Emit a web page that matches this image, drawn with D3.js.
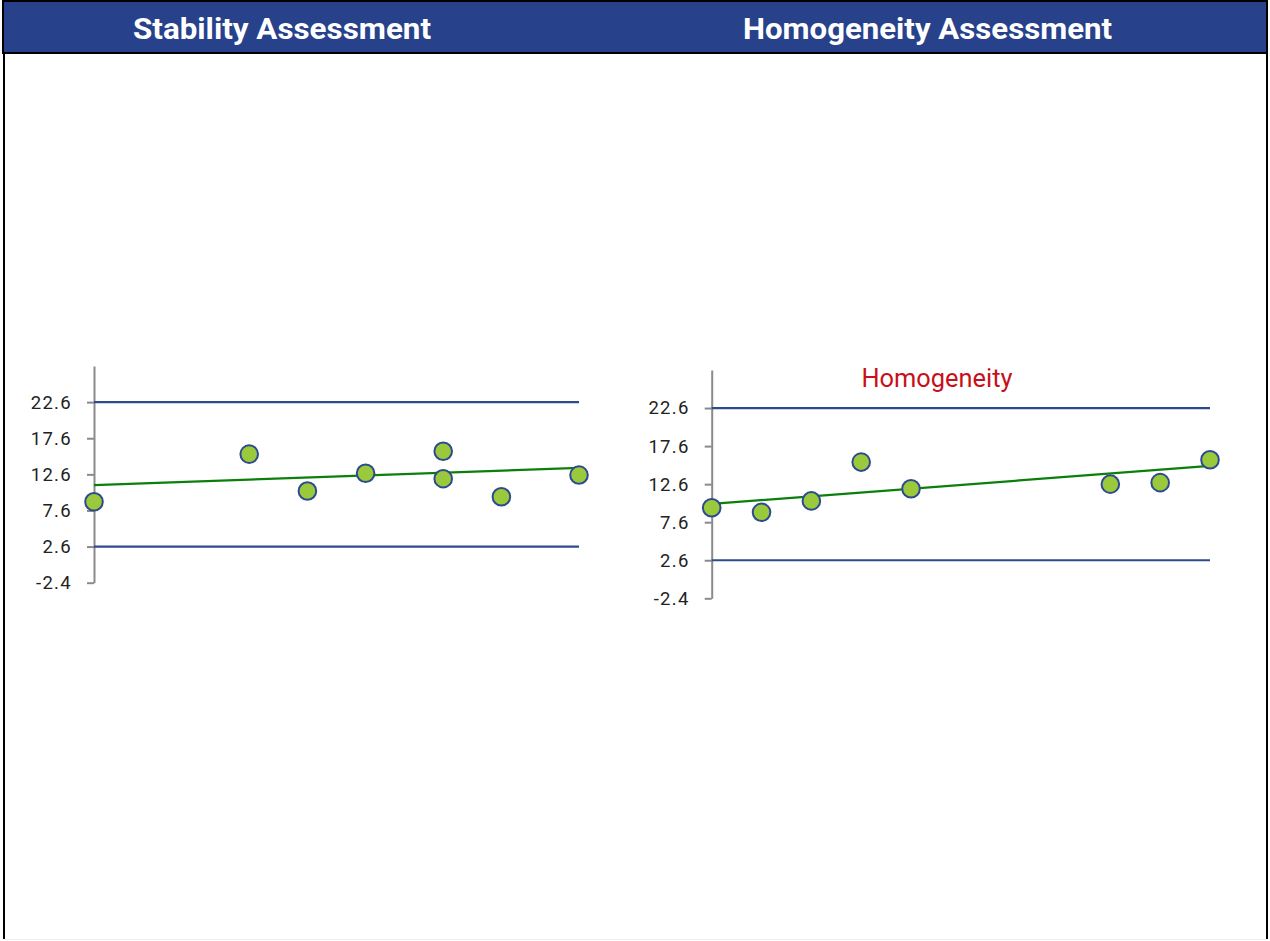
<!DOCTYPE html>
<html>
<head>
<meta charset="utf-8">
<script src="https://cdn.jsdelivr.net/npm/d3@7"></script>
<style>
   body { margin: 0; background: #ffffff; }
   svg { display: block; }
</style>
</head>
<body>
<div id="chart"></div>
<script>

// HEADER TITLES
var panelTitles = ['Stability Assessment', 'Homogeneity Assessment'];

// SHARED Y TICKS
var yTicks = [-2.4, 2.6, 7.6, 12.6, 17.6, 22.6];
var yDomain = [-2.4, 27.6];

// STABILITY SERIES
var stabilityTime = [0, 8, 11, 14, 18, 18, 21, 25];
var stabilityValue = [8.8, 15.4, 10.3, 12.75, 15.8, 12.0, 9.5, 12.5];
var stabilityLimits = [2.6, 22.6];
var stabilityTrend = [11.1, 13.5];

// HOMOGENEITY SERIES
var homogeneitySample = [0, 1, 2, 3, 4, 8, 9, 10];
var homogeneityValue = [9.5, 8.9, 10.4, 15.5, 12.0, 12.6, 12.8, 15.8];
var homogeneityLimits = [2.6, 22.6];
var homogeneityTrend = [10.0, 15.0];

// SETTINGS
var settings = {
   width: 1270,
   height: 941,
   header: '#27418a',
   limit: '#2e4a8f',
   trend: '#0a800a',
   dotFill: '#9aca3c',
   dotStroke: '#2e4a8f',
   axis: '#8a8a8a',
   font: 'Roboto, "DejaVu Sans", sans-serif'
};

// CANVAS
var svg = d3.select('#chart').append('svg')
   .attr('width', settings.width)
   .attr('height', settings.height)

// HEADER BAR
svg.append('rect')
   .attr('x', 3).attr('y', 1)
   .attr('width', 1264).attr('height', 52)
   .attr('fill', settings.header)
   .attr('stroke', '#000').attr('stroke-width', 2)

// FRAME SIDES
svg.append('line').attr('x1', 4).attr('x2', 4).attr('y1', 53).attr('y2', 939)
   .attr('stroke', '#000').attr('stroke-width', 2)
svg.append('line').attr('x1', 1267).attr('x2', 1267).attr('y1', 53).attr('y2', 939)
   .attr('stroke', '#000').attr('stroke-width', 2)
svg.append('line').attr('x1', 4).attr('x2', 1267).attr('y1', 939.5).attr('y2', 939.5)
   .attr('stroke', '#eeeeee').attr('stroke-width', 1)

// HEADER TEXTS
var headerX = [282, 927.5];
var headerW = [298, 369];
panelTitles.forEach((title, i) => {
   svg.append('text')
      .attr('x', headerX[i]).attr('y', 39)
      .attr('text-anchor', 'middle')
      .attr('textLength', headerW[i])
      .attr('lengthAdjust', 'spacingAndGlyphs')
      .attr('font-family', settings.font)
      .attr('font-weight', 700)
      .attr('font-size', 30)
      .attr('fill', '#ffffff')
      .text(title)
});

// TICK FORMAT WITH PLAIN HYPHEN
var fmt = (d) => { return d3.format('.1f')(d).replace('\u2212', '-') };

// DRAW ONE PANEL
function panel(cfg) {

   // SCALES
   var xScale = d3.scaleLinear().domain(cfg.xDomain).range([cfg.left, cfg.right])
   var yScale = d3.scaleLinear().domain(yDomain).range([cfg.bottom, cfg.top])

   var g = svg.append('g')

   // Y AXIS
   var axis = g.append('g')
      .attr('transform', 'translate(' + cfg.left + ',0)')
      .call(d3.axisLeft(yScale).tickValues(yTicks).tickSize(7).tickSizeOuter(0).tickPadding(15)
         .tickFormat(fmt))

   axis.select('.domain').attr('stroke', settings.axis).attr('stroke-width', 2)
   axis.selectAll('.tick line').attr('stroke', settings.axis).attr('stroke-width', 2)
   axis.selectAll('text')
      .attr('font-family', settings.font)
      .attr('font-size', 18.5)
      .attr('letter-spacing', 1.3)
      .attr('fill', '#222')

   // LIMIT LINES
   g.selectAll('.limit')
      .data(cfg.limits)
         .enter().append('line')
            .attr('x1', xScale(cfg.xDomain[0]))
            .attr('x2', xScale(cfg.xDomain[1]))
            .attr('y1', (d) => { return yScale(d) })
            .attr('y2', (d) => { return yScale(d) })
            .attr('stroke', settings.limit)
            .attr('stroke-width', 2.2)

   // TREND LINE
   g.append('line')
      .attr('x1', xScale(cfg.xDomain[0]))
      .attr('x2', xScale(cfg.xDomain[1]))
      .attr('y1', yScale(cfg.trend[0]))
      .attr('y2', yScale(cfg.trend[1]))
      .attr('stroke', settings.trend)
      .attr('stroke-width', 2.2)

   // DOTS
   g.selectAll('circle')
      .data(cfg.values)
         .enter().append('circle')
            .attr('cx', (d, i) => { return xScale(cfg.xs[i]) })
            .attr('cy', (d) => { return yScale(d) })
            .attr('r', 8.8)
            .attr('fill', settings.dotFill)
            .attr('stroke', settings.dotStroke)
            .attr('stroke-width', 2)

   // OPTIONAL TITLE
   if (cfg.title) {
      g.append('text')
         .attr('x', 937).attr('y', 387)
         .attr('text-anchor', 'middle')
         .attr('textLength', 151)
         .attr('lengthAdjust', 'spacingAndGlyphs')
         .attr('font-family', settings.font)
         .attr('font-size', 26)
         .attr('fill', '#c8101a')
         .text(cfg.title)
   }
}

// STABILITY PANEL
panel({
   xs: stabilityTime, values: stabilityValue,
   limits: stabilityLimits, trend: stabilityTrend,
   xDomain: [0, 25],
   left: 94, right: 579, top: 366, bottom: 582.7
});

// HOMOGENEITY PANEL
panel({
   xs: homogeneitySample, values: homogeneityValue,
   limits: homogeneityLimits, trend: homogeneityTrend,
   xDomain: [0, 10],
   left: 711.7, right: 1210, top: 370, bottom: 598.3,
   title: 'Homogeneity'
});

</script>
</body>
</html>
